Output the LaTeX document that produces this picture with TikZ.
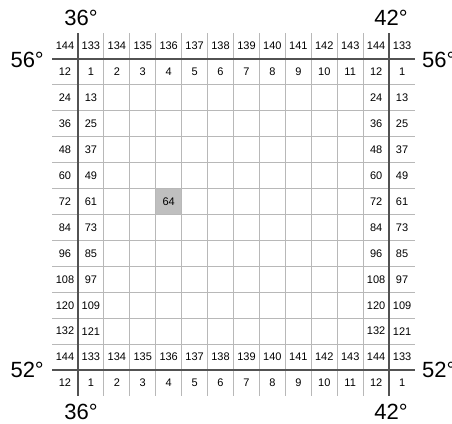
\documentclass[tikz,border=0pt]{standalone}
\usepackage{fontspec}
\setmainfont{Liberation Sans}
\tikzset{
    thinline/.style={draw=black!28,line width=0.9pt},
    thickline/.style={draw=black!68,line width=1.7pt},
    cellnum/.style={font=\fontsize{11}{12}\selectfont},
    deg/.style={font=\fontsize{22}{24}\selectfont,inner sep=0pt}
}
\begin{document}
\begin{tikzpicture}[x=1pt,y=-1pt]
    \useasboundingbox (0,0) rectangle (452,423);
    \def\cs{25.93}
    \def\gx{52}
    \def\gy{33}
    % shaded cell
    \fill [black!25] (\gx+4*\cs,\gy+6*\cs) rectangle (\gx+5*\cs,\gy+7*\cs);
    % grid
    \foreach \k in {2,...,12} {
        \draw [thinline] (\gx+\k*\cs,\gy) -- (\gx+\k*\cs,\gy+14*\cs);
        \draw [thinline] (\gx,\gy+\k*\cs) -- (\gx+14*\cs,\gy+\k*\cs);
    }
    \foreach \k in {1,13} {
        \draw [thickline] (\gx+\k*\cs,\gy) -- (\gx+\k*\cs,\gy+14*\cs);
        \draw [thickline] (\gx,\gy+\k*\cs) -- (\gx+14*\cs,\gy+\k*\cs);
    }
    % numbers
    \foreach \r in {0,...,13} {
        \foreach \c in {0,...,13} {
            \pgfmathtruncatemacro{\i}{\r==0 ? 12 : (\r==13 ? 1 : \r)}
            \pgfmathtruncatemacro{\j}{\c==0 ? 12 : (\c==13 ? 1 : \c)}
            \pgfmathtruncatemacro{\v}{12*(\i-1)+\j}
            \pgfmathtruncatemacro{\show}{(\r<2 || \r>11 || \c<2 || \c>11 || \v==64) ? 1 : 0}
            \ifnum\show=1
                \node [cellnum] (n-\r-\c) at (\gx+\c*\cs+0.5*\cs,\gy+\r*\cs+0.5*\cs) {\v};
            \fi
        }
    }
    % degree labels
    \node [deg] (lon36t) at (81,18) {36°};
    \node [deg] (lon42t) at (391,18) {42°};
    \node [deg] (lon36b) at (81,412) {36°};
    \node [deg] (lon42b) at (391,412) {42°};
    \node [deg,anchor=east] (lat56l) at (44,60) {56°};
    \node [deg,anchor=west] (lat56r) at (422,60) {56°};
    \node [deg,anchor=east] (lat52l) at (44,370) {52°};
    \node [deg,anchor=west] (lat52r) at (422,370) {52°};
\end{tikzpicture}
\end{document}
